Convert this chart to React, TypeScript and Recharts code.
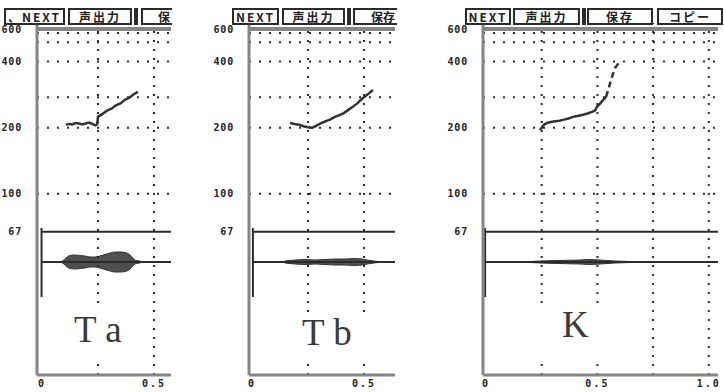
import React from "react";
import { ComposedChart, Line, Area, XAxis, YAxis, ReferenceLine } from "recharts";

// pitch axis (Hz, log), shared by the three panels
const hzTicks = [67, 100, 200, 400, 600];
const hzGridRows = [540, 490, 400, 275, 200, 100];
const hzDomain = [14.9, 600];
// waveform strip (arbitrary amplitude units)
const ampDomain = [-11.3, 23.9];
const markerSpan = [-3.5, 3.4];

// Ta
const taPitchT = [0.107, 0.12, 0.135, 0.15, 0.165, 0.18, 0.195, 0.21, 0.225, 0.238, 0.246, 0.25, 0.27, 0.29, 0.31, 0.33, 0.35, 0.37, 0.39, 0.41, 0.428];
const taPitchHz = [206, 208, 207, 210, 209, 207, 209, 211, 208, 205, 207, 224, 231, 239, 244, 253, 258, 268, 274, 284, 291];
const taEnvT = [0.09, 0.098, 0.112, 0.125, 0.147, 0.17, 0.192, 0.214, 0.237, 0.259, 0.281, 0.304, 0.326, 0.348, 0.371, 0.393, 0.406, 0.42, 0.438];
const taEnvAmp = [0.1, 0.2, 0.5, 0.65, 0.7, 0.65, 0.6, 0.5, 0.5, 0.6, 0.75, 0.9, 1.0, 1.0, 0.95, 0.7, 0.4, 0.15, 0.1];

// Tb
const tbPitchT = [0.17, 0.19, 0.21, 0.23, 0.25, 0.27, 0.29, 0.31, 0.33, 0.35, 0.37, 0.39, 0.41, 0.43, 0.45, 0.47, 0.49, 0.51, 0.525, 0.54];
const tbPitchHz = [210, 208, 206, 203, 201, 200, 205, 210, 214, 218, 224, 228, 233, 241, 249, 258, 270, 280, 288, 297];
const tbEnvT = [0.147, 0.192, 0.237, 0.281, 0.326, 0.371, 0.415, 0.46, 0.491, 0.527, 0.562];
const tbEnvAmp = [0.1, 0.2, 0.25, 0.2, 0.25, 0.3, 0.3, 0.35, 0.3, 0.15, 0.05];

// K
const kPitchT = [0.242, 0.26, 0.274, 0.29, 0.31, 0.33, 0.346, 0.37, 0.39, 0.41, 0.435, 0.455, 0.476, 0.49, 0.498, 0.51, 0.521, 0.539];
const kPitchHz = [195, 206, 210, 212, 214, 215, 217, 220, 224, 226, 229, 232, 236, 240, 249, 256, 264, 276];
const kTailT = [0.539, 0.552, 0.561, 0.57, 0.579, 0.592, 0.601];
const kTailHz = [276, 306, 330, 351, 374, 390, 403];
const kEnvT = [0.2, 0.242, 0.332, 0.422, 0.467, 0.512, 0.579, 0.646];
const kEnvAmp = [0.05, 0.1, 0.15, 0.2, 0.25, 0.2, 0.1, 0.05];

const zipPitch = (t: number[], hz: number[]) => t.map((v, i) => ({ t: v, hz: hz[i] }));
const zipEnv = (t: number[], a: number[]) => t.map((v, i) => ({ t: v, band: [-a[i], a[i]] }));

const INK = "#2b2b2b";
const AXIS = "#858585";

const panels = [
  {
    key: "ta", left: 0, width: 175, xDomain: [-0.0223, 0.5759], xTicks: [0, 0.5], gridCols: [0.25, 0.5], markT: -0.002,
    pitch: zipPitch(taPitchT, taPitchHz), tail: null as any, env: zipEnv(taEnvT, taEnvAmp),
    label: "T a", labelBox: { left: 70, top: 310, width: 67, height: 47 }, textLeft: 4,
    buttons: [
      { text: "、NEXT", x: 4, w: 61, cut: false }, { text: "声出力", x: 68, w: 64, cut: false },
      { text: "", x: 134, w: 4, cut: false }, { text: "保", x: 141, w: 31, cut: true },
    ],
    clip: [0, 172],
  },
  {
    key: "tb", left: 212, width: 187, xDomain: [-0.0134, 0.6384], xTicks: [0, 0.5], gridCols: [0.25, 0.5], markT: 0.004,
    pitch: zipPitch(tbPitchT, tbPitchHz), tail: null as any, env: zipEnv(tbEnvT, tbEnvAmp),
    label: "T b", labelBox: { left: 298, top: 313, width: 74, height: 44 }, textLeft: 4,
    buttons: [
      { text: "NEXT", x: 232, w: 47, cut: false }, { text: "声出力", x: 282, w: 63, cut: false },
      { text: "", x: 347, w: 4, cut: false }, { text: "保存", x: 353, w: 44, cut: true },
    ],
    clip: [228, 397],
  },
  {
    key: "k", left: 446, width: 276, xDomain: [-0.0135, 1.0413], xTicks: [0, 0.5, 1.0], gridCols: [0.25, 0.5, 0.75, 1.0], markT: -0.004,
    pitch: zipPitch(kPitchT, kPitchHz), tail: zipPitch(kTailT, kTailHz), env: zipEnv(kEnvT, kEnvAmp),
    label: "K", labelBox: { left: 535, top: 305, width: 68, height: 52 }, textLeft: 27,
    buttons: [
      { text: "NEXT", x: 465, w: 46, cut: false }, { text: "声出力", x: 513, w: 67, cut: false },
      { text: "", x: 582, w: 4, cut: false }, { text: "保存", x: 587, w: 66, cut: false },
      { text: "コピー", x: 657, w: 66, cut: false },
    ],
    clip: [460, 724],
  },
];

const YTick = (props: any) => {
  const { x, y, payload } = props;
  return (
    <text x={x} y={y + (payload.value === 600 ? 6 : 0)} dy={3.5} textAnchor="end" fontFamily="DejaVu Sans Mono" fontWeight="bold" fontSize={10} letterSpacing={0.8} fill="#222">
      {payload.value}
    </text>
  );
};

const XTick = (props: any) => {
  const { x, y, payload } = props;
  const s = payload.value === 0 ? "0" : payload.value.toFixed(1);
  return (
    <text x={x} y={y} dy={8} textAnchor="middle" fontFamily="DejaVu Sans Mono" fontWeight="bold" fontSize={10} letterSpacing={2} fill="#222">
      {s}
    </text>
  );
};

const Header = ({ p }: { p: (typeof panels)[number] }) => (
  <div style={{ position: "absolute", left: p.clip[0], top: 0, width: p.clip[1] - p.clip[0], height: 32, overflow: "hidden" }}>
    {p.buttons.map((b, i) => (
      <div
        key={i}
        style={{
          position: "absolute", left: b.x - p.clip[0], top: 8, width: b.w, height: 17, boxSizing: "border-box",
          border: `2px solid ${INK}`, borderRight: b.cut ? "none" : `2px solid ${INK}`, background: "#fff",
          fontFamily: "Noto Sans CJK JP", fontWeight: "bold", fontSize: 12, lineHeight: "13px",
          textAlign: b.cut ? "right" : "center", letterSpacing: b.cut ? 0 : 2, color: "#222", whiteSpace: "nowrap",
          paddingRight: b.cut ? 2 : 0, overflow: "hidden",
        }}
      >
        {b.text}
      </div>
    ))}
    <div style={{ position: "absolute", left: p.left + 36 - p.clip[0], top: 27, width: p.width - 40, height: 4, background: AXIS }} />
  </div>
);

const Panel = ({ p }: { p: (typeof panels)[number] }) => {
  const xMax = p.xDomain[1];
  return (
    <div style={{ position: "absolute", left: p.left, top: 0 }}>
      <ComposedChart width={p.width} height={392} margin={{ top: 23, right: 4, bottom: 0, left: 0 }}>
        <XAxis
          xAxisId={0} type="number" dataKey="t" domain={p.xDomain} allowDataOverflow ticks={p.xTicks} interval={0}
          height={17} tickSize={0} tickMargin={4} tickLine={false} axisLine={{ stroke: AXIS, strokeWidth: 3 }} tick={<XTick />}
        />
        <YAxis
          yAxisId="hz" orientation="left" type="number" scale="log" domain={hzDomain} allowDataOverflow ticks={hzTicks} interval={0}
          width={37} tickSize={0} tickMargin={15} tickLine={false} axisLine={{ stroke: AXIS, strokeWidth: 3 }} tick={<YTick />}
        />
        <YAxis yAxisId="amp" orientation="right" width={0} type="number" domain={ampDomain} allowDataOverflow hide />
        {hzGridRows.map((v) => (
          <ReferenceLine key={`r${v}`} yAxisId="hz" y={v} stroke={INK} strokeWidth={2} strokeDasharray="2 8" />
        ))}
        {p.gridCols.map((v) => (
          <ReferenceLine key={`c${v}`} yAxisId="hz" x={v} stroke={INK} strokeWidth={2} strokeDasharray="2 7" />
        ))}
        <ReferenceLine yAxisId="hz" segment={[{ x: p.markT, y: 67 }, { x: xMax, y: 67 }]} stroke={INK} strokeWidth={2} />
        <ReferenceLine yAxisId="amp" segment={[{ x: p.markT, y: 0 }, { x: xMax, y: 0 }]} stroke={INK} strokeWidth={2} />
        <ReferenceLine yAxisId="amp" segment={[{ x: p.markT, y: markerSpan[0] }, { x: p.markT, y: markerSpan[1] }]} stroke={INK} strokeWidth={2} />
        <Area yAxisId="amp" data={p.env} dataKey="band" type="monotone" stroke="#333" strokeWidth={1} fill="#3c3c3c" fillOpacity={0.9} dot={false} isAnimationActive={false} />
        <Line yAxisId="hz" data={p.pitch} dataKey="hz" type="linear" stroke="#333" strokeWidth={2.5} dot={false} isAnimationActive={false} />
        {p.tail && (
          <Line yAxisId="hz" data={p.tail} dataKey="hz" type="linear" stroke="#333" strokeWidth={2.5} strokeDasharray="6 4" dot={false} isAnimationActive={false} />
        )}
      </ComposedChart>
    </div>
  );
};

export default function App() {
  return (
    <div style={{ position: "absolute", left: 0, top: 0, width: 724, height: 392, background: "#fff", overflow: "hidden" }}>
      {panels.map((p) => (
        <Panel key={p.key} p={p} />
      ))}
      {panels.map((p) => (
        <Header key={`h${p.key}`} p={p} />
      ))}
      {panels.map((p) => (
        <div
          key={`l${p.key}`}
          style={{ position: "absolute", left: p.labelBox.left, top: p.labelBox.top, width: p.labelBox.width, height: p.labelBox.height, background: "#fff" }}
        >
          <div style={{ position: "absolute", left: p.textLeft, top: 1, fontFamily: "Liberation Serif", fontSize: 37, lineHeight: "37px", color: "#3a3a3a", whiteSpace: "pre" }}>
            {p.label}
          </div>
        </div>
      ))}
    </div>
  );
}
